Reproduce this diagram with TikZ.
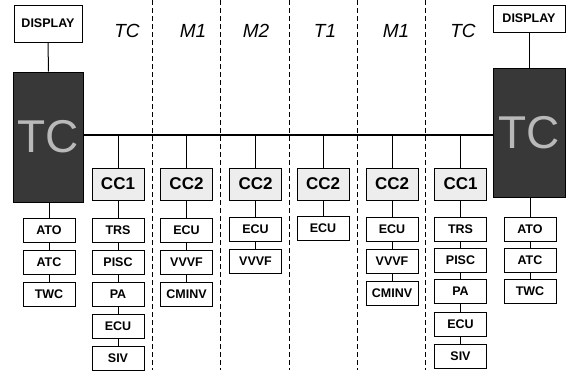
\documentclass[tikz,border=0pt]{standalone}
\usepackage{fontspec}
\setmainfont{Liberation Sans}
\usetikzlibrary{positioning}
\tikzset{
      unitbox/.style={
        draw=black,
        line width=1pt,
        fill=white,
        minimum width=52pt,
        minimum height=24pt,
        inner sep=1pt,
        font=\fontsize{12.5}{14}\selectfont\bfseries
      },
      ccbox/.style={
        unitbox,
        fill=gray!14,
        minimum height=32pt,
        font=\fontsize{17}{19}\selectfont\bfseries
      },
      tcbox/.style={
        draw=black,
        line width=1pt,
        fill=black!78,
        text=gray!55,
        minimum width=70pt,
        minimum height=130pt,
        inner sep=0pt,
        font=\fontsize{46}{48}\selectfont
      },
      carlabel/.style={
        font=\fontsize{19}{21}\selectfont\itshape
      },
      bus/.style={line width=1.6pt},
      link/.style={line width=1pt},
      carsep/.style={line width=0.8pt, dash pattern=on 5pt off 3pt}
    }
\begin{document}
\begin{tikzpicture}[x=1pt,y=-1pt]
    \useasboundingbox (0,0) rectangle (572,370);
    % car boundaries
    \draw[carsep] (152,0) -- (152,370);
    \draw[carsep] (220,0) -- (220,370);
    \draw[carsep] (289,0) -- (289,370);
    \draw[carsep] (357,0) -- (357,370);
    \draw[carsep] (425,0) -- (425,370);
    % car names
    \node[carlabel] (nTCa) at (127,31) {TC};
    \node[carlabel] (nM1a) at (193,31) {M1};
    \node[carlabel] (nM2) at (256,31) {M2};
    \node[carlabel] (nT1) at (325,31) {T1};
    \node[carlabel] (nM1b) at (396,31) {M1};
    \node[carlabel] (nTCb) at (463,31) {TC};
    % head units
    \node[unitbox, minimum width=68pt, minimum height=37pt] (dispL) at (48,23.5) {DISPLAY};
    \node[unitbox, minimum width=72pt, minimum height=27pt] (dispR) at (529,18.5) {DISPLAY};
    \node[tcbox] (tcL) at (48.5,137) {TC};
    \node[tcbox, minimum width=72pt, minimum height=129pt] (tcR) at (529,132.5) {TC};
    \draw[link] (dispL.south) -- (tcL.north);
    \draw[link] (dispR.south) -- (tcR.north);
    % train bus
    \coordinate (busL) at (tcL.east |- 0,135);
    \coordinate (busR) at (tcR.west |- 0,135);
    \draw[bus] (busL) -- (busR);
    % car controllers
    \node[ccbox] (ccA) at (118,184) {CC1};
    \node[ccbox] (ccB) at (186.5,184) {CC2};
    \node[ccbox] (ccC) at (255.5,184) {CC2};
    \node[ccbox] (ccD) at (323,184) {CC2};
    \node[ccbox] (ccE) at (392,184) {CC2};
    \node[ccbox] (ccF) at (460.5,184) {CC1};
    \foreach \cc in {ccA,ccB,ccC,ccD,ccE,ccF}
      \draw[link] (\cc.north |- busL) -- (\cc.north);
    % left TC equipment
    \node[unitbox] (atoL) at (49,230) {ATO};
    \node[unitbox] (atcL) at (49,262) {ATC};
    \node[unitbox] (twcL) at (49,294) {TWC};
    \draw[link] (tcL.south -| atoL) -- (atoL.north);
    \draw[link] (atoL.south) -- (atcL.north);
    \draw[link] (atcL.south) -- (twcL.north);
    % TC car equipment
    \node[unitbox] (trsA) at (118,230) {TRS};
    \node[unitbox] (piscA) at (118,262) {PISC};
    \node[unitbox] (paA) at (118,294) {PA};
    \node[unitbox] (ecuA) at (118,326) {ECU};
    \node[unitbox] (sivA) at (118,358) {SIV};
    \draw[link] (ccA.south) -- (trsA.north);
    \draw[link] (trsA.south) -- (piscA.north);
    \draw[link] (piscA.south) -- (paA.north);
    \draw[link] (paA.south) -- (ecuA.north);
    \draw[link] (ecuA.south) -- (sivA.north);
    % M1 car equipment
    \node[unitbox] (ecuB) at (186.5,230) {ECU};
    \node[unitbox] (vvvfB) at (186.5,262) {VVVF};
    \node[unitbox] (cminvB) at (186.5,294) {CMINV};
    \draw[link] (ccB.south) -- (ecuB.north);
    \draw[link] (ecuB.south) -- (vvvfB.north);
    \draw[link] (vvvfB.south) -- (cminvB.north);
    % M2 car equipment
    \node[unitbox] (ecuC) at (255.5,229) {ECU};
    \node[unitbox] (vvvfC) at (255.5,261) {VVVF};
    \draw[link] (ccC.south) -- (ecuC.north);
    \draw[link] (ecuC.south) -- (vvvfC.north);
    % T1 car equipment
    \node[unitbox] (ecuD) at (323,228) {ECU};
    \draw[link] (ccD.south) -- (ecuD.north);
    % second M1 car equipment
    \node[unitbox] (ecuE) at (392,229) {ECU};
    \node[unitbox] (vvvfE) at (392,261) {VVVF};
    \node[unitbox] (cminvE) at (392,293) {CMINV};
    \draw[link] (ccE.south) -- (ecuE.north);
    \draw[link] (ecuE.south) -- (vvvfE.north);
    \draw[link] (vvvfE.south) -- (cminvE.north);
    % second TC car equipment
    \node[unitbox] (trsF) at (460.5,229) {TRS};
    \node[unitbox] (piscF) at (460.5,260) {PISC};
    \node[unitbox] (paF) at (460.5,291) {PA};
    \node[unitbox] (ecuF) at (460.5,324) {ECU};
    \node[unitbox] (sivF) at (460.5,356) {SIV};
    \draw[link] (ccF.south) -- (trsF.north);
    \draw[link] (trsF.south) -- (piscF.north);
    \draw[link] (piscF.south) -- (paF.north);
    \draw[link] (paF.south) -- (ecuF.north);
    \draw[link] (ecuF.south) -- (sivF.north);
    % right TC equipment
    \node[unitbox] (atoR) at (530,229) {ATO};
    \node[unitbox] (atcR) at (530,260) {ATC};
    \node[unitbox] (twcR) at (530,291) {TWC};
    \draw[link] (tcR.south -| atoR) -- (atoR.north);
    \draw[link] (atoR.south) -- (atcR.north);
    \draw[link] (atcR.south) -- (twcR.north);
    \end{tikzpicture}
\end{document}
